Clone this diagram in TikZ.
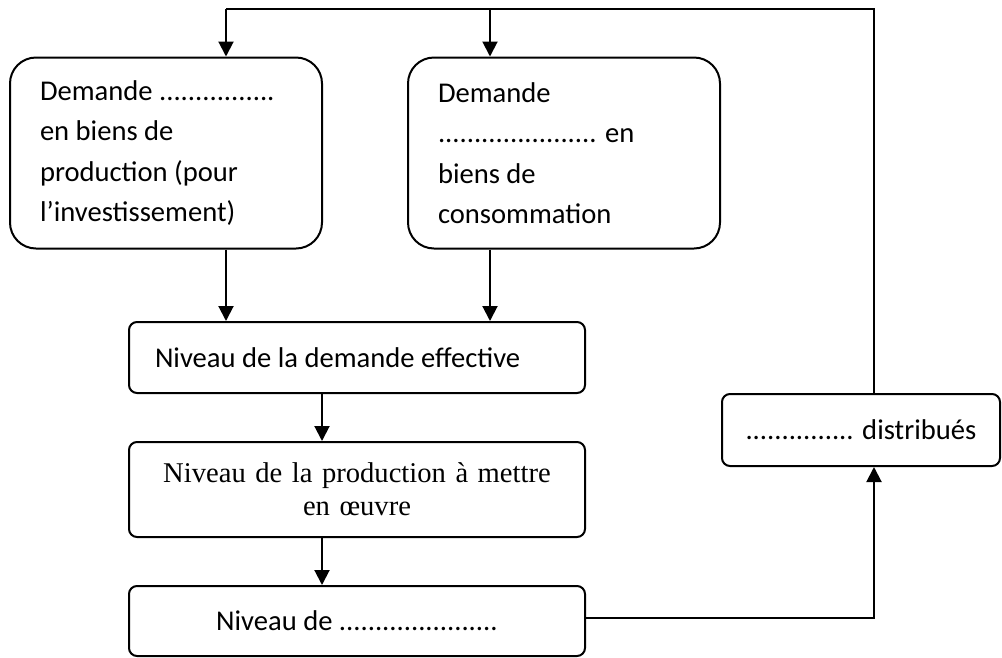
\documentclass[tikz,border=0pt]{standalone}
\usepackage{fontspec}
\setmainfont{Carlito}
\newfontfamily\timesfont{Liberation Serif}
\usetikzlibrary{arrows.meta}

\begin{document}
\begin{tikzpicture}[x=1pt,y=-1pt,line width=2pt,
    box/.style={draw,rounded corners=8pt,inner sep=0pt,font=\fontsize{28.6}{40.5}\selectfont},
    bigbox/.style={box,rounded corners=26pt,minimum width=312pt,minimum height=191pt,text width=252pt,align=flush left},
    arr/.style={-{Triangle[width=15pt,length=15pt]}}]
    \useasboundingbox (0,0) rectangle (1002,657);

		\node[bigbox] (invest) at (166,153) {Demande ................\\en biens de\\production (pour\\l'investissement)};
		\node[bigbox] (conso) at (564,153) {Demande\\...................... en\\biens de\\consommation};
		\node[box,minimum width=456pt,minimum height=71pt,text width=404pt,align=flush left] (effective) at (357,357.5) {Niveau de la demande effective};
		\node[box,minimum width=456pt,minimum height=95pt,text width=440pt,align=center,font=\timesfont\fontsize{28.6}{33}\selectfont] (prod) at (357,489.5) {Niveau de la production à mettre\\en œuvre};
		\node[box,minimum width=456pt,minimum height=70pt] (niveau) at (357,621) {Niveau de ......................};
		\node[box,minimum width=278pt,minimum height=72pt] (distrib) at (861,430) {............... distribués};

		\coordinate (A) at (226,9);
		\coordinate (B) at (490,9);
		\coordinate (C) at (322,0);
		\coordinate (D) at (874,9);
		\coordinate (E) at (874,618);

		\draw (distrib.north -| D) -- (D) -- (A);
		\draw [arr] (A) -- (invest.north -| A);
		\draw [arr] (B) -- (conso.north -| B);
		\draw [arr] (invest.south -| A) -- (effective.north -| A);
		\draw [arr] (conso.south -| B) -- (effective.north -| B);
		\draw [arr] (effective.south -| C) -- (prod.north -| C);
		\draw [arr] (prod.south -| C) -- (niveau.north -| C);
		\draw [arr] (niveau.east |- E) -- (E) -- (distrib.south -| E);

\end{tikzpicture}
\end{document}
